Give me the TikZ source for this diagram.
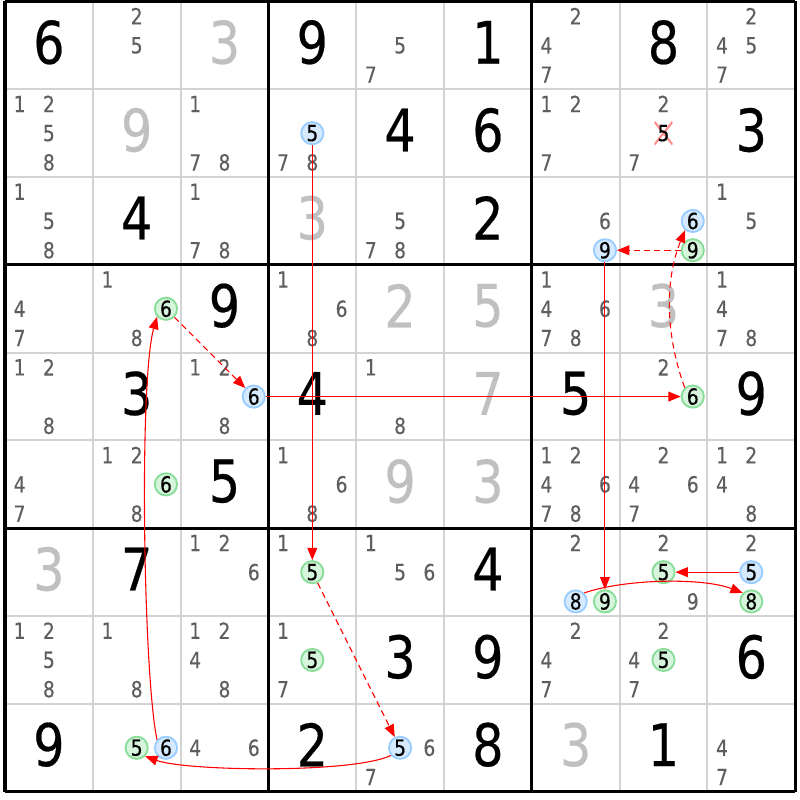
\documentclass[tikz,border=0pt]{standalone}
\usepackage{fontspec}
\setmainfont{DejaVu Sans}[FakeStretch=0.84,FakeBold=0.4]
\usepackage{tikz}
\usetikzlibrary{arrows.meta}
\usetikzlibrary{shapes}

\definecolor{candgray}{HTML}{5E5E5E}
\definecolor{solvedgray}{HTML}{C0C0C0}
\definecolor{gridgray}{HTML}{D3D3D3}
\definecolor{bluefill}{HTML}{D6EAFF}
\definecolor{bluedraw}{HTML}{99CCFF}
\definecolor{greenfill}{HTML}{D6F5DC}
\definecolor{greendraw}{HTML}{88DD99}
\definecolor{xred}{HTML}{FF9090}

% candidates of one cell: [style]{row}{col}{list}
\newcommand{\cellcands}[4][cand]{%
  \edef\candlist{#4}%
  \foreach \n in \candlist {%
    \pgfmathtruncatemacro{\cx}{mod(\n-1,3)}%
    \pgfmathtruncatemacro{\cy}{div(\n-1,3)}%
    \node[#1] (r#2c#3n\n) at ({#3-1+\cx/3+1/6},{-#2+1-\cy/3-1/6}) {\n};%
  }%
}

\begin{document}
\begin{tikzpicture}
\tikzstyle{given}=[font=\fontsize{19}{21}\selectfont, inner sep=0, yshift=1pt]
\tikzstyle{solved}=[given, text=solvedgray]
\tikzstyle{cand}=[font=\fontsize{7.2}{8}\selectfont, text=candgray, inner sep=0]
\tikzstyle{bluecand}=[cand, text=black, circle, draw=bluedraw, fill=bluefill, line width=0.6pt, minimum size=7.2pt]
\tikzstyle{greencand}=[bluecand, draw=greendraw, fill=greenfill]
\tikzstyle{xcand}=[cand, text=black, inner sep=1pt, path picture={
  \draw[xred, line width=0.7pt] (path picture bounding box.north west) -- (path picture bounding box.south east)
    (path picture bounding box.north east) -- (path picture bounding box.south west);}]
\tikzstyle{stronglink}=[red, line width=0.35pt, -{Triangle[length=4pt,width=3.2pt]}]
\tikzstyle{weaklink}=[stronglink, dash pattern=on 2pt off 1.3pt]

\useasboundingbox (-0.057,0.017) rectangle (9.055,-9.095);
\draw[gridgray, line width=0.65pt] (0,0) grid (9,-9);
\draw[line width=1pt, step=3] (0,0) grid (9,-9);

\foreach \r/\c/\d in {1/1/6,1/4/9,1/6/1,1/8/8,2/5/4,2/6/6,2/9/3,3/2/4,3/6/2,4/3/9,5/2/3,5/4/4,
  5/7/5,5/9/9,6/3/5,7/2/7,7/6/4,8/5/3,8/6/9,8/9/6,9/1/9,9/4/2,9/6/8,9/8/1}
  \node[given] (g\r\c) at (\c-0.5,0.5-\r) {\d};
\foreach \r/\c/\d in {1/3/3,2/2/9,3/4/3,4/5/2,4/6/5,4/8/3,5/6/7,6/5/9,6/6/3,7/1/3,9/7/3}
  \node[solved] (s\r\c) at (\c-0.5,0.5-\r) {\d};

\foreach \r/\c/\l in {1/2/{2,5},1/5/{5,7},1/7/{2,4,7},1/9/{2,4,5,7},
  2/1/{1,2,5,8},2/3/{1,7,8},2/4/{7,8},2/7/{1,2,7},2/8/{2,7},
  3/1/{1,5,8},3/3/{1,7,8},3/5/{5,7,8},3/7/{6},3/9/{1,5},
  4/1/{4,7},4/2/{1,8},4/4/{1,6,8},4/7/{1,4,6,7,8},4/9/{1,4,7,8},
  5/1/{1,2,8},5/3/{1,2,8},5/5/{1,8},5/8/{2},
  6/1/{4,7},6/2/{1,2,8},6/4/{1,6,8},6/7/{1,2,4,6,7,8},6/8/{2,4,6,7},6/9/{1,2,4,8},
  7/3/{1,2,6},7/4/{1},7/5/{1,5,6},7/7/{2},7/8/{2,9},7/9/{2},
  8/1/{1,2,5,8},8/2/{1,8},8/3/{1,2,4,8},8/4/{1,7},8/7/{2,4,7},8/8/{2,4,7},
  9/3/{4,6},9/5/{6,7},9/9/{4,7}}
  \cellcands{\r}{\c}{\l};

\foreach \r/\c/\n in {2/4/5,3/7/9,3/8/6,5/3/6,7/7/8,7/9/5,9/2/6,9/5/5}
  \cellcands[bluecand]{\r}{\c}{\n};
\foreach \r/\c/\n in {3/8/9,4/2/6,5/8/6,6/2/6,7/4/5,7/7/9,7/8/5,7/9/8,8/4/5,8/8/5,9/2/5}
  \cellcands[greencand]{\r}{\c}{\n};
\cellcands[xcand]{2}{8}{5}

% chain
\draw[stronglink] (r2c4n5) -- (r7c4n5);
\draw[weaklink] (r7c4n5) -- (r9c5n5);
\draw[stronglink] (r9c5n5.220) to[out=205,in=-20,looseness=0.45] (r9c2n5.-45);
\draw[stronglink] (r9c2n6.138) to[out=102,in=-106,looseness=0.4] (r4c2n6.222);
\draw[weaklink] (r4c2n6) -- (r5c3n6);
\draw[stronglink] (r5c3n6) -- (r5c8n6);
\draw[weaklink] (r5c8n6.132) to[out=110,in=-112,looseness=0.9] (r3c8n6.230);
\draw[weaklink] (r3c8n9) -- (r3c7n9);
\draw[stronglink] (r3c7n9) -- (r7c7n9);
\draw[stronglink] (r7c7n8.45) to[out=19,in=159,looseness=0.7] (r7c9n8.135);
\draw[stronglink] (r7c9n5) -- (r7c8n5);
\end{tikzpicture}
\end{document}
